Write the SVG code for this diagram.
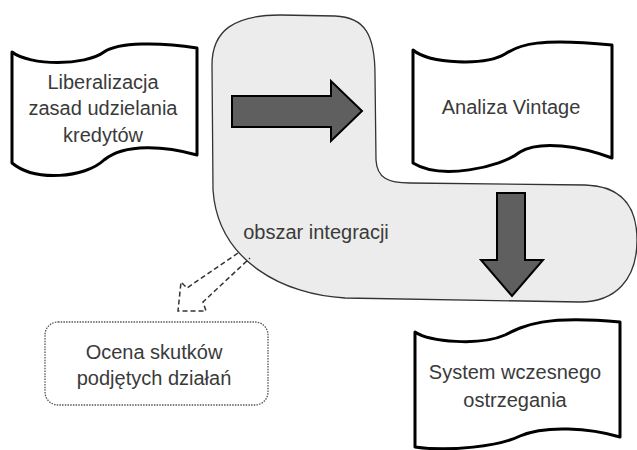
<svg xmlns="http://www.w3.org/2000/svg" width="637" height="450" viewBox="0 0 637 450">
<style>
.tape{fill:#ffffff;stroke:#000000;stroke-width:3;stroke-linejoin:round}
.lbl{font-family:"Liberation Sans",Arial,sans-serif;font-size:20px;fill:#3a3a3a;text-anchor:middle}
.big{fill:#5f5f5f;stroke:#000000;stroke-width:2;stroke-linejoin:miter}
</style>
<rect width="637" height="450" fill="#ffffff"/>
<g id="integration-area">
<path d="M 212,65 C 212,30 235,15 280,15 L 335,16 C 365,17 375,35 375,75 L 376,160 C 377,178 388,183 410,183 L 585,185 C 620,186 637,205 637,240 C 637,280 615,302 580,302 L 345,298 C 285,295 218,262 213,190 Z" fill="#ececec" stroke="#333333" stroke-width="1.3"/>
<text class="lbl" x="316" y="239">obszar integracji</text>
</g>
<g id="node-liberalizacja">
<path class="tape" d="M 12,52 C 30,66 85,66 104,52 C 118,42 160,42 197,48 L 197,155 C 165,146 125,143 104,160 C 85,178 35,182 12,163 Z"/>
<text class="lbl" x="103" y="89">Liberalizacja</text>
<text class="lbl" x="103" y="115">zasad udzielania</text>
<text class="lbl" x="103" y="142">kredytów</text>
</g>
<g id="node-vintage">
<path class="tape" d="M 413,50 C 430,64 485,66 505,54 C 520,44 540,38 612,45 L 612,158 C 580,146 540,140 520,152 C 500,168 440,180 413,163 Z"/>
<text class="lbl" x="511" y="114">Analiza Vintage</text>
</g>
<g id="node-system">
<path class="tape" d="M 415,332 C 430,342 480,346 505,335 C 525,325 545,315 620,322 L 620,437 C 590,428 545,425 520,436 C 500,446 450,452 415,447 Z"/>
<text class="lbl" x="515" y="379">System wczesnego</text>
<text class="lbl" x="515" y="407">ostrzegania</text>
</g>
<g id="node-ocena">
<rect x="45" y="322" width="223" height="83" rx="13" ry="13" fill="#ffffff" stroke="#555555" stroke-width="1.3" stroke-dasharray="1.5,1.2"/>
<text class="lbl" x="154" y="359">Ocena skutków</text>
<text class="lbl" x="154" y="385">podjętych działań</text>
</g>
<g id="connectors">
<path class="big" d="M 232,96 L 331,96 L 331,81 L 362,111 L 331,141 L 331,127 L 232,127 Z"/>
<path class="big" d="M 497,193 L 525,193 L 525,260 L 543,260 L 512,296 L 481,260 L 497,260 Z"/>
<path d="M 238,253 L 187,288 L 181,282 L 178,311 L 206,311 L 203,302 L 250,258" fill="none" stroke="#333333" stroke-width="1.5" stroke-dasharray="5,3"/>
</g>
</svg>
